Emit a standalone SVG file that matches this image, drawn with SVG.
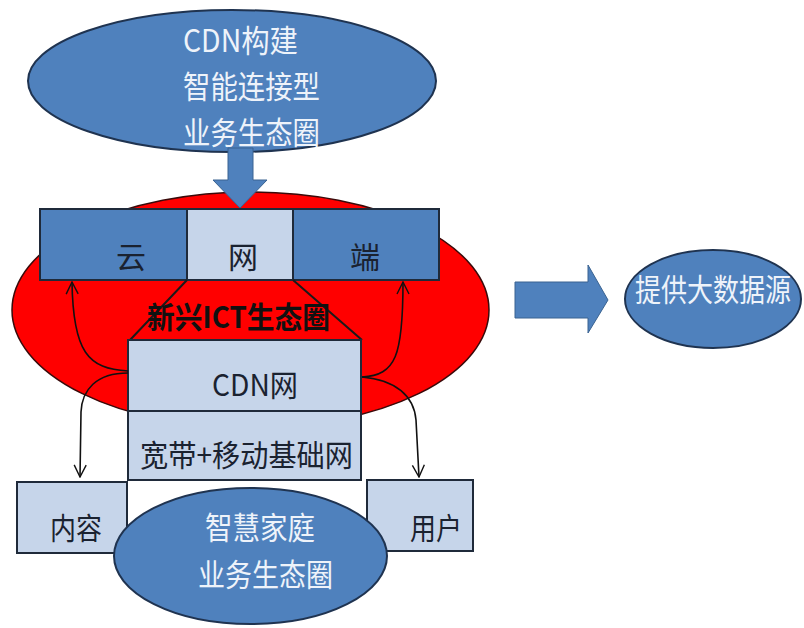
<svg xmlns="http://www.w3.org/2000/svg" width="804" height="628" viewBox="0 0 804 628">
<style>
.blue{fill:#4F81BD;stroke:#1F3350;stroke-width:2}
.barrow{fill:#4F81BD;stroke:#3A6391;stroke-width:1}
.light{fill:#C6D5EA;stroke:#1F2A3A;stroke-width:2}
.dark{fill:#4F81BD;stroke:#1F2A3A;stroke-width:2}
.wt{font-family:"Noto Sans CJK SC","Liberation Sans",sans-serif;fill:#EEF3FA;font-size:31px}
.bt{font-family:"Noto Sans CJK SC","Liberation Sans",sans-serif;fill:#1A2230;font-size:30px}
.conn{fill:none;stroke:#111;stroke-width:1.6}
</style>
<defs>
<marker id="ah" viewBox="0 0 14 14" refX="13" refY="7" markerWidth="14" markerHeight="14" markerUnits="userSpaceOnUse" orient="auto">
<path d="M1,1 L13,7 L1,13" fill="none" stroke="#111" stroke-width="1.4"/>
</marker>
</defs>
<rect width="804" height="628" fill="#fff"/>

<g id="top-ellipse">
<ellipse cx="232" cy="81" rx="204" ry="71" class="blue"/>
<text class="wt" x="183" y="52" textLength="115" lengthAdjust="spacingAndGlyphs">CDN构建</text>
<text class="wt" x="183" y="98" textLength="137" lengthAdjust="spacingAndGlyphs">智能连接型</text>
<text class="wt" x="183" y="144" textLength="137" lengthAdjust="spacingAndGlyphs">业务生态圈</text>
</g>

<g id="red-ellipse">
<ellipse cx="250.5" cy="310" rx="238.5" ry="118" fill="#FF0000" stroke="#3A0A0A" stroke-width="1.5"/>
</g>

<g id="down-arrow">
<path class="barrow" d="M228,148 L253,148 L253,180 L267,180 L240,208 L213,180 L228,180 Z"/>
</g>

<g id="bar">
<rect x="40" y="209" width="147" height="71" class="dark"/>
<rect x="187" y="209" width="106" height="71" class="light"/>
<rect x="293" y="209" width="146" height="71" class="dark"/>
<text class="bt" x="131" y="268" text-anchor="middle" font-size="29">云</text>
<text class="bt" x="243" y="268" text-anchor="middle" font-size="29">网</text>
<text class="bt" x="365" y="268" text-anchor="middle" font-size="29">端</text>
</g>

<g id="ict-label">
<path d="M187,280 L130,340 M293,280 L362,340" fill="none" stroke="#1A1A1A" stroke-width="2"/>
<text x="147" y="328" font-family="Noto Sans CJK SC,Liberation Sans,sans-serif" font-size="30" font-weight="bold" fill="#111" textLength="183" lengthAdjust="spacingAndGlyphs">新兴ICT生态圈</text>
</g>

<g id="cdn-box">
<rect x="128" y="340" width="233" height="71" class="light"/>
<text class="bt" x="212" y="396" textLength="86" lengthAdjust="spacingAndGlyphs">CDN网</text>
</g>
<g id="base-box">
<rect x="128" y="411" width="233" height="69" class="light"/>
<text class="bt" x="140" y="466" textLength="213" lengthAdjust="spacingAndGlyphs">宽带+移动基础网</text>
</g>

<g id="connectors">
<path class="conn" d="M128,371 C88,369 73,352 72,282" marker-end="url(#ah)"/>
<path class="conn" d="M128,373 C96,373 82,390 81,412 L80,477" marker-end="url(#ah)"/>
<path class="conn" d="M362,377 C396,375 403,356 403,282" marker-end="url(#ah)"/>
<path class="conn" d="M362,377 C396,380 414,396 416,420 L419,477" marker-end="url(#ah)"/>
</g>

<g id="content-box">
<rect x="17" y="482" width="110" height="71" class="light"/>
<text class="bt" x="50" y="539" textLength="52" lengthAdjust="spacingAndGlyphs">内容</text>
</g>
<g id="user-box">
<rect x="367" y="480" width="106" height="71" class="light"/>
<text class="bt" x="410" y="539" textLength="52" lengthAdjust="spacingAndGlyphs">用户</text>
</g>

<g id="home-ellipse">
<ellipse cx="250.5" cy="556" rx="136.5" ry="68" class="blue"/>
<text class="wt" x="205" y="539" font-size="30" textLength="110" lengthAdjust="spacingAndGlyphs">智慧家庭</text>
<text class="wt" x="198" y="586" font-size="30" textLength="135" lengthAdjust="spacingAndGlyphs">业务生态圈</text>
</g>

<g id="right-arrow">
<path class="barrow" d="M515,282 L588,282 L588,265 L608,300 L588,333 L588,318 L515,318 Z"/>
</g>

<g id="data-ellipse">
<ellipse cx="713" cy="299" rx="88" ry="49" class="blue"/>
<text class="wt" transform="translate(713,301) scale(0.84,1)" x="0" y="0" font-size="27" text-anchor="middle">提供大数据源</text>
</g>
</svg>
